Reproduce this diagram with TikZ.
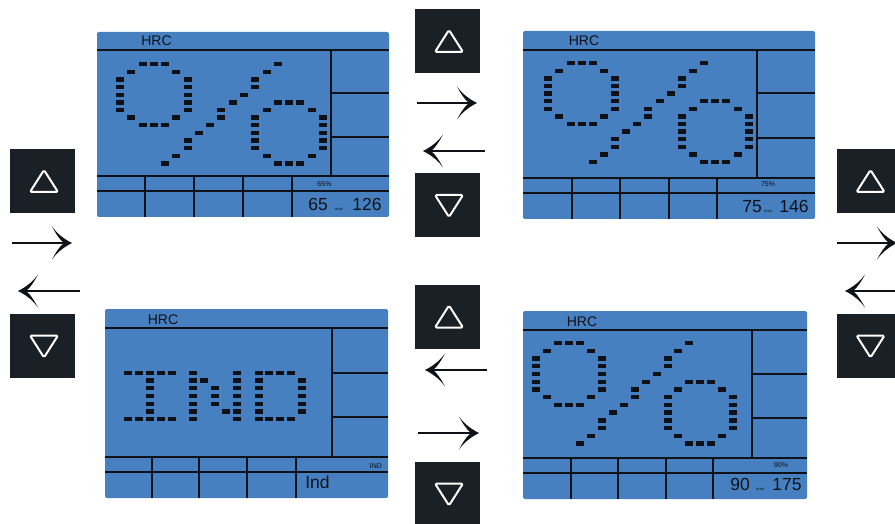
\documentclass[tikz,border=0pt]{standalone}
\usepackage{fontspec}
\setmainfont{Liberation Sans}
\usetikzlibrary{arrows.meta}

\definecolor{lcd}{RGB}{70,128,192}
\definecolor{btn}{RGB}{27,31,38}
\definecolor{ink}{RGB}{15,17,22}

\pgfdeclarearrow{
  name = LCDBarb,
  setup code = {
    \pgfarrowssettipend{0pt}
    \pgfarrowssetlineend{-7pt}
    \pgfarrowssetvisualbackend{-20pt}
    \pgfarrowssetbackend{-20pt}
    \pgfarrowsupperhullpoint{-20pt}{16.5pt}
    \pgfarrowsupperhullpoint{0pt}{0pt}
  },
  drawing code = {
    \pgfpathmoveto{\pgfqpoint{0pt}{0pt}}
    \pgfpathcurveto{\pgfqpoint{-6pt}{3pt}}{\pgfqpoint{-14pt}{8pt}}{\pgfqpoint{-20pt}{16.5pt}}
    \pgfpathcurveto{\pgfqpoint{-16pt}{9pt}}{\pgfqpoint{-12pt}{3pt}}{\pgfqpoint{-8pt}{0pt}}
    \pgfpathcurveto{\pgfqpoint{-12pt}{-3pt}}{\pgfqpoint{-16pt}{-9pt}}{\pgfqpoint{-20pt}{-16.5pt}}
    \pgfpathcurveto{\pgfqpoint{-14pt}{-8pt}}{\pgfqpoint{-6pt}{-3pt}}{\pgfqpoint{0pt}{0pt}}
    \pgfpathclose
    \pgfusepathqfill
  }
}

\newcommand\PctDots[4]{%
  \foreach \c/\r in {2/0,3/0,4/0,1/1,5/1,0/2,0/3,0/4,0/5,0/6,6/2,6/3,6/4,6/5,6/6,1/7,5/7,2/8,3/8,4/8,
    14/0,13/1,12/2,12/3,11/4,10/5,9/6,9/7,8/8,7/9,6/10,6/11,5/12,4/13,
    14/5,15/5,16/5,13/6,17/6,12/7,12/8,12/9,12/10,12/11,18/7,18/8,18/9,18/10,18/11,13/12,17/12,14/13,15/13,16/13}{
    \fill[ink] ({#1+\c*#3-4},{#2+\r*#4-2.2}) rectangle ++(8,4.4);
  }}
\newcommand\IndDots[4]{%
  \foreach \c/\r in {0/0,1/0,2/0,3/0,4/0,2/1,2/2,2/3,2/4,2/5,0/6,1/6,2/6,3/6,4/6,
    6/0,6/1,6/2,6/3,6/4,6/5,6/6,7/1,8/2,8/3,8/4,9/5,10/0,10/1,10/2,10/3,10/4,10/5,10/6,
    12/0,12/1,12/2,12/3,12/4,12/5,12/6,13/0,14/0,15/0,16/1,16/2,16/3,16/4,16/5,13/6,14/6,15/6}{
    \fill[ink] ({#1+\c*#3-4},{#2+\r*#4-2.2}) rectangle ++(8,4.4);
  }}

\tikzset{
  panelbg/.style={fill=lcd, rounded corners=2pt},
  thick line/.style={draw=ink, line width=2pt},
  thin line/.style={draw=ink, line width=1.5pt},
  hrc/.style={font=\fontsize{14}{14}\selectfont, anchor=base, text=ink, inner sep=0pt},
  small/.style={font=\fontsize{7}{7}\selectfont, anchor=base, text=ink, inner sep=0pt},
  tiny/.style={font=\fontsize{4}{4}\selectfont, anchor=base, text=ink, inner sep=0pt},
  digits/.style={font=\fontsize{17.5}{17.5}\selectfont, anchor=base, text=ink, inner sep=0pt},
  btnbox/.style={fill=btn, minimum width=65pt, minimum height=64pt, inner sep=0pt, draw=none},
  tri/.style={draw=white, line width=2pt, rounded corners=1.5pt, line join=round},
  arr/.style={draw=ink, line width=2.6pt, -{LCDBarb}}
}

\newcommand\UpTri[1]{\draw[tri] ([shift={(1.5,-11)}]#1.center) -- ([shift={(15.5,11)}]#1.center) -- ([shift={(-12.5,11)}]#1.center) -- cycle;}
\newcommand\DownTri[1]{\draw[tri] ([shift={(1.5,12)}]#1.center) -- ([shift={(15.5,-10)}]#1.center) -- ([shift={(-12.5,-10)}]#1.center) -- cycle;}

\begin{document}
\begin{tikzpicture}[x=1pt, y=-1pt]
\useasboundingbox (0,0) rectangle (895,524);
\clip (0,0) rectangle (895,524);

% ---------- Panel 1 (top-left) ----------
\fill[panelbg] (97,32) rectangle (389,217);
\draw[thick line] (97,50) -- (389,50);
\draw[thin line] (331,50) -- (331,176);
\draw[thin line] (331,93) -- (389,93);
\draw[thin line] (331,137) -- (389,137);
\draw[thick line] (97,176) -- (389,176);
\draw[thick line] (97,191) -- (389,191);
\foreach \xx in {145,194,243,292} \draw[thin line] (\xx,176) -- (\xx,217);
\node[hrc] (h1) at (156.5,46) {HRC};
\PctDots{120}{64.3}{11.27}{7.62}
\node[small] (s1) at (324.5,187) {65\%};
\node[digits] (d1a) at (318,211) {65};
\node[tiny] (m1) at (339,211) {max};
\node[digits] (d1b) at (367,211) {126};

% ---------- Panel 2 (top-right) ----------
\fill[panelbg] (523,31) rectangle (815,219);
\draw[thick line] (523,50) -- (815,50);
\draw[thin line] (757,50) -- (757,178);
\draw[thin line] (757,93) -- (815,93);
\draw[thin line] (757,138) -- (815,138);
\draw[thick line] (523,178) -- (815,178);
\draw[thick line] (523,193) -- (815,193);
\foreach \xx in {572,620,669,717} \draw[thin line] (\xx,178) -- (\xx,219);
\node[hrc] (h2) at (584,46) {HRC};
\PctDots{548.3}{63.3}{11.13}{7.6}
\node[small] (s2) at (768,187) {75\%};
\node[digits] (d2a) at (752,213) {75};
\node[tiny] (m2) at (768,213) {max};
\node[digits] (d2b) at (794,213) {146};

% ---------- Panel 3 (bottom-left) ----------
\fill[panelbg] (105,309) rectangle (388,498);
\draw[thick line] (105,328) -- (388,328);
\draw[thin line] (332,328) -- (332,457);
\draw[thin line] (332,373) -- (388,373);
\draw[thin line] (332,417) -- (388,417);
\draw[thick line] (105,457) -- (388,457);
\draw[thick line] (105,472) -- (388,472);
\foreach \xx in {152,199,247,296} \draw[thin line] (\xx,457) -- (\xx,498);
\node[hrc] (h3) at (163,324) {HRC};
\IndDots{128.3}{372.7}{10.85}{7.75}
\node[small] (s3) at (376,468) {IND};
\node[digits] (d3) at (317.5,488) {Ind};

% ---------- Panel 4 (bottom-right) ----------
\fill[panelbg] (523,311) rectangle (807,499);
\draw[thick line] (523,330) -- (807,330);
\draw[thin line] (752,330) -- (752,458);
\draw[thin line] (752,374) -- (807,374);
\draw[thin line] (752,418) -- (807,418);
\draw[thick line] (523,458) -- (807,458);
\draw[thick line] (523,473) -- (807,473);
\foreach \xx in {571,618,666,713} \draw[thin line] (\xx,458) -- (\xx,499);
\node[hrc] (h4) at (582,326) {HRC};
\PctDots{536}{343}{10.96}{7.74}
\node[small] (s4) at (781,467) {90\%};
\node[digits] (d4a) at (740,490) {90};
\node[tiny] (m4) at (760,490) {max};
\node[digits] (d4b) at (787,490) {175};

% ---------- Buttons ----------
\node[btnbox] (bl1) at (42.5,181) {};
\node[btnbox] (bl2) at (42.5,345.5) {};
\node[btnbox] (bt1) at (447.5,41) {};
\node[btnbox] (bt2) at (447.5,205) {};
\node[btnbox] (bb1) at (447.5,316.5) {};
\node[btnbox] (bb2) at (447.5,493.5) {};
\node[btnbox] (br1) at (869,181) {};
\node[btnbox] (br2) at (869,345.5) {};
\UpTri{bl1} \DownTri{bl2}
\UpTri{bt1} \DownTri{bt2}
\UpTri{bb1} \DownTri{bb2}
\UpTri{br1} \DownTri{br2}

% ---------- Arrows ----------
\coordinate (la1s) at (12,243);  \coordinate (la1e) at (72,243);
\coordinate (la2s) at (80,291);  \coordinate (la2e) at (18,291);
\coordinate (ta1s) at (417,103); \coordinate (ta1e) at (477,103);
\coordinate (ta2s) at (485,151); \coordinate (ta2e) at (423,151);
\coordinate (ba1s) at (487,370); \coordinate (ba1e) at (425,370);
\coordinate (ba2s) at (418,433); \coordinate (ba2e) at (479,433);
\coordinate (ra1s) at (837,243); \coordinate (ra1e) at (897,243);
\coordinate (ra2s) at (905,291); \coordinate (ra2e) at (845,291);
\draw[arr] (la1s) -- (la1e);
\draw[arr] (la2s) -- (la2e);
\draw[arr] (ta1s) -- (ta1e);
\draw[arr] (ta2s) -- (ta2e);
\draw[arr] (ba1s) -- (ba1e);
\draw[arr] (ba2s) -- (ba2e);
\draw[arr] (ra1s) -- (ra1e);
\draw[arr] (ra2s) -- (ra2e);
\end{tikzpicture}
\end{document}
